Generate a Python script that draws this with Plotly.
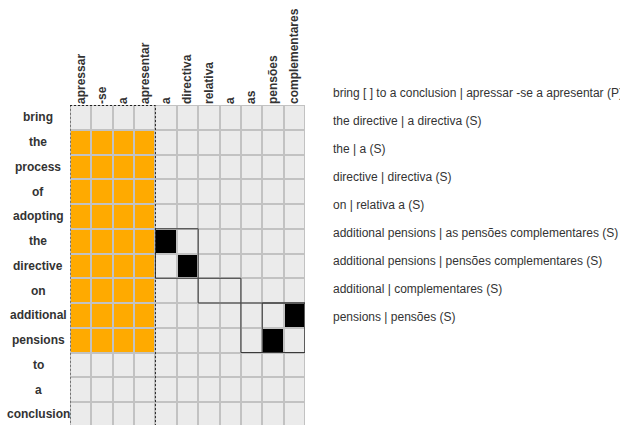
import plotly.graph_objects as go

# ---- data ----
rows = ["bring", "the", "process", "of", "adopting", "the", "directive", "on",
        "additional", "pensions", "to", "a", "conclusion"]
cols = ["apressar", "-se", "a", "apresentar", "a", "directiva", "relativa", "a",
        "as", "pensões", "complementares"]

# sure (S) single-word alignments: (row, col)
sure_cells = [(5, 4), (6, 5), (8, 10), (9, 9)]
# gap region of the possible (P) phrase: rows, cols
gap_rows = [1, 2, 3, 4, 5, 6, 7, 8, 9]
gap_cols = [0, 1, 2, 3]
# phrase boxes: (row_start, row_end, col_start, col_end)
phrase_boxes = [(5, 6, 4, 5), (7, 7, 6, 7), (8, 9, 8, 10), (8, 9, 9, 10)]
# possible phrase (dashed): rows, cols
possible_box = (0, 12, 0, 3)

legend_lines = [
    "bring [ ] to a conclusion | apressar -se a apresentar (P)",
    "the directive | a directiva (S)",
    "the | a (S)",
    "directive | directiva (S)",
    "on | relativa a (S)",
    "additional pensions | as pensões complementares (S)",
    "additional pensions | pensões complementares (S)",
    "additional | complementares (S)",
    "pensions | pensões (S)",
]

# ---- build matrix ----
z = [[0 for _ in cols] for _ in rows]
for r in gap_rows:
    for c in gap_cols:
        z[r][c] = 1
for r, c in sure_cells:
    z[r][c] = 2

W, H = 620, 425
L, T = 70, 105
PW = 235
PH = H - T
row_h = 24.75
n_vis = PH / row_h

fig = go.Figure()
fig.add_trace(go.Heatmap(
    z=z, x=list(range(len(cols))), y=list(range(len(rows))),
    zmin=0, zmax=2,
    colorscale=[[0, "#ebebeb"], [0.5, "#ffaa00"], [1, "#000000"]],
    showscale=False, xgap=2, ygap=2, hoverinfo="skip",
))

shapes = []
for r0, r1, c0, c1 in phrase_boxes:
    shapes.append(dict(type="rect", xref="x", yref="y",
                       x0=c0 - 0.5, x1=c1 + 0.5, y0=r0 - 0.5, y1=r1 + 0.5,
                       line=dict(color="#3a3a3a", width=1), layer="above"))
r0, r1, c0, c1 = possible_box
shapes.append(dict(type="rect", xref="x", yref="y",
                   x0=c0 - 0.5, x1=c1 + 0.5, y0=r0 - 0.5 + 0.02, y1=r1 + 0.5,
                   line=dict(color="#222222", width=1, dash="2px,2px"), layer="above"))

annotations = []
for i, lab in enumerate(rows):
    annotations.append(dict(xref="paper", yref="y", x=(38 - L) / PW, y=i,
                            text="<b>%s</b>" % lab, showarrow=False,
                            xanchor="center", yanchor="middle",
                            font=dict(family="Liberation Sans, Arial", size=12, color="#333333")))
for i, t in enumerate(legend_lines):
    ypx = 93.3 + 28 * i
    annotations.append(dict(xref="paper", yref="paper", x=(331 - L) / PW,
                            y=1 - (ypx - T) / PH, text=t, showarrow=False,
                            xanchor="left", yanchor="middle",
                            font=dict(family="Liberation Sans, Arial", size=12, color="#333333")))

fig.update_layout(
    width=W, height=H,
    margin=dict(l=L, r=W - L - PW, t=T, b=0, pad=0, autoexpand=False),
    paper_bgcolor="white", plot_bgcolor="#c2c2c2",
    shapes=shapes, annotations=annotations,
    xaxis=dict(side="top", range=[-0.5, len(cols) - 0.5], automargin=False,
               tickmode="array", tickvals=list(range(len(cols))), ticktext=cols,
               tickangle=-90, ticks="", showgrid=False, zeroline=False, showline=False,
               tickfont=dict(family="Liberation Sans, Arial", size=12, color="#333333", weight="bold")),
    yaxis=dict(range=[-0.5 + n_vis, -0.5], showticklabels=False, ticks="", automargin=False,
               showgrid=False, zeroline=False, showline=False),
    showlegend=False,
)

fig.write_html("out.html", config={"displayModeBar": False},
               post_script="document.body.style.margin='0';document.body.style.overflow='hidden';")
